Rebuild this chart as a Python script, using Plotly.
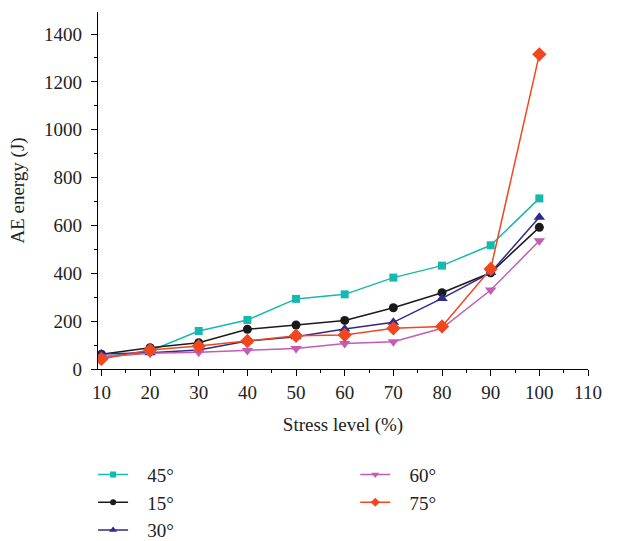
import plotly.graph_objects as go

stress = [10, 20, 30, 40, 50, 60, 70, 80, 90, 100]
e45 = [50, 75, 159, 205, 293, 312, 382, 432, 517, 713]
e15 = [62, 89, 110, 166, 184, 203, 256, 319, 402, 592]
e30 = [63, 68, 79, 117, 135, 167, 195, 295, 403, 634]
e60 = [50, 66, 70, 77, 86, 107, 114, 170, 330, 536]
e75 = [42, 79, 96, 117, 139, 142, 170, 178, 418, 1315]

FONT = "Liberation Serif"
PAD = "\u00a0\u00a0\u00a0"

series = [
    ("45°", e45, "#17B8AE", "square", 8, 6, "legend"),
    ("15°", e15, "#1A1A1A", "circle", 9, 6, "legend"),
    ("30°", e30, "#2E2A8C", "triangle-up", 10, 7, "legend"),
    ("60°", e60, "#C25CB4", "triangle-down", 10, 7, "legend2"),
    ("75°", e75, "#F0471E", "diamond", 11, 7, "legend2"),
]

fig = go.Figure()
for name, ys, col, sym, sz, lsz, lg in series:
    fig.add_trace(go.Scatter(
        x=stress, y=ys, name=name, mode="lines+markers",
        line=dict(color=col, width=1.5),
        marker=dict(color=col, symbol=sym, size=sz),
        showlegend=False,
    ))
for name, ys, col, sym, sz, lsz, lg in series:
    fig.add_trace(go.Scatter(
        x=[None], y=[None], name=PAD + name, mode="lines+markers",
        line=dict(color=col, width=1.5),
        marker=dict(color=col, symbol=sym, size=lsz),
        legend=lg, showlegend=True,
    ))

axis_common = dict(
    showline=True, linecolor="black", linewidth=1.3,
    ticks="outside", ticklen=6, tickwidth=1.3, tickcolor="black",
    showgrid=False, zeroline=False, mirror=False,
    tickfont=dict(family=FONT, size=19, color="#222"),
)

fig.update_layout(
    width=632, height=541,
    margin=dict(l=98, r=44, t=12, b=172, autoexpand=False),
    plot_bgcolor="white", paper_bgcolor="white",
    font=dict(family=FONT, size=19, color="#222"),
    xaxis=dict(
        range=[9.3, 110], tickvals=[10, 20, 30, 40, 50, 60, 70, 80, 90, 100, 110],
        minor=dict(ticks="outside", ticklen=3, tickwidth=1.3, tickcolor="black", dtick=5, tick0=0),
        title=dict(text="Stress level (%)", font=dict(family=FONT, size=19), standoff=15),
        **axis_common,
    ),
    yaxis=dict(
        range=[0, 1492], tickvals=[0, 200, 400, 600, 800, 1000, 1200, 1400],
        minor=dict(ticks="outside", ticklen=3, tickwidth=1.3, tickcolor="black", dtick=100, tick0=0),
        title=dict(text="AE energy (J)", font=dict(family=FONT, size=19), standoff=14),
        ticklabelstandoff=5,
        **axis_common,
    ),
    legend=dict(x=-0.01, y=-0.243, xanchor="left", yanchor="top",
                bgcolor="rgba(0,0,0,0)", font=dict(family=FONT, size=19), tracegroupgap=0),
    legend2=dict(x=0.525, y=-0.243, xanchor="left", yanchor="top",
                 bgcolor="rgba(0,0,0,0)", font=dict(family=FONT, size=19), tracegroupgap=0),
)

fig.write_html("out.html")
